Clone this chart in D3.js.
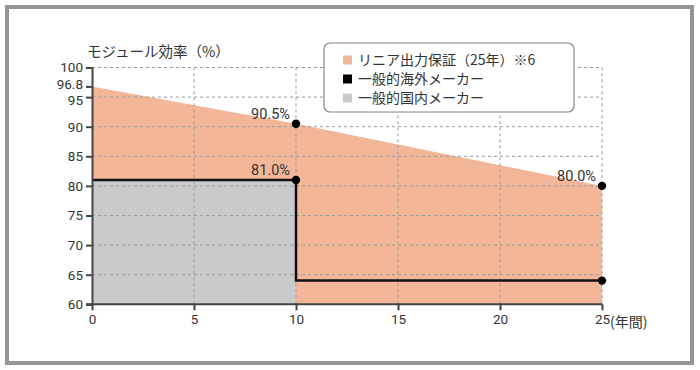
<!DOCTYPE html>
<html><head><meta charset="utf-8">
<script src="https://cdn.jsdelivr.net/npm/d3@7"></script>
<style>
body{margin:0;background:#fff;}
text{font-family:"Noto Sans CJK JP","Noto Sans",sans-serif;fill:#333;}
</style></head>
<body><svg id="c" width="700" height="370"></svg>
<script>
const years = [0, 10, 25];
const linearWarranty = [96.8, 90.5, 80.0];
const overseasYears = [0, 10, 10, 25];
const overseasValues = [81.0, 81.0, 64.0, 64.0];
const domesticYears = [0, 10];
const domesticValues = [81.0, 81.0];
const xTicks = [0, 5, 10, 15, 20, 25];
const yTicks = [60, 65, 70, 75, 80, 85, 90, 95, 96.8, 100];
const yGrid = [65, 70, 75, 80, 85, 90, 95, 100];
const pointLabels = [{x:10,y:90.5,t:"90.5%"},{x:10,y:81.0,t:"81.0%"},{x:25,y:80.0,t:"80.0%"}];
const extraPoints = [{x:25,y:64.0}];
const legendItems = [
  {label:"リニア出力保証（25年）※6", color:"#f4b699"},
  {label:"一般的海外メーカー", color:"#000000"},
  {label:"一般的国内メーカー", color:"#c9cacb"}
];

const svg = d3.select("#c");
svg.append("rect").attr("x",7).attr("y",7).attr("width",685).attr("height",356)
  .attr("fill","#fff").attr("stroke","#959595").attr("stroke-width",4);

const x = d3.scaleLinear().domain([0,25]).range([92,602]);
const y = d3.scaleLinear().domain([60,100]).range([304.3,67.5]);

// orange area
const area = d3.area().x((d,i)=>x(years[i])).y0(y(60)).y1(d=>y(d));
svg.append("path").datum(linearWarranty).attr("d",area).attr("fill","#f4b699");
// gray area
const area2 = d3.area().x((d,i)=>x(domesticYears[i])).y0(y(60)).y1(d=>y(d));
svg.append("path").datum(domesticValues).attr("d",area2).attr("fill","#c9cacb");

// grid
const g = svg.append("g");
g.selectAll(".hg").data(yGrid).enter().append("line")
  .attr("x1",x(0)).attr("x2",x(25)).attr("y1",d=>y(d)).attr("y2",d=>y(d))
  .attr("stroke","#999").attr("stroke-width",1).attr("stroke-dasharray","3,3");
g.selectAll(".vg").data(xTicks.slice(1)).enter().append("line")
  .attr("x1",d=>x(d)).attr("x2",d=>x(d)).attr("y1",y(60)).attr("y2",y(100))
  .attr("stroke","#999").attr("stroke-width",1).attr("stroke-dasharray","3,3");

// overseas step line
const line = d3.line().x((d,i)=>x(overseasYears[i])).y(d=>y(d));
svg.append("path").datum(overseasValues).attr("d",line).attr("fill","none")
  .attr("stroke","#111").attr("stroke-width",2.5);

// axes
const yAxis = d3.axisLeft(y).tickValues(yTicks).tickSize(6).tickPadding(3)
  .tickFormat(d=>d===96.8?"96.8":d3.format("d")(d));
const ya = svg.append("g").attr("transform",`translate(${x(0)},0)`).call(yAxis);
ya.select(".domain").attr("stroke","#444").attr("stroke-width",2);
ya.selectAll(".tick line").attr("stroke","#444").attr("stroke-width",2);
ya.selectAll(".tick text").attr("font-size",13.5).attr("fill","#333")
  .style("font-family","Roboto,sans-serif");
ya.selectAll(".tick text").filter(d=>d===96.8).attr("y",-2.7);
ya.selectAll(".tick text").filter(d=>d===95).attr("y",3.5);

const xAxis = d3.axisBottom(x).tickValues(xTicks).tickSize(6).tickPadding(4)
  .tickFormat(d3.format("d"));
const xa = svg.append("g").attr("transform",`translate(0,${y(60)})`).call(xAxis);
xa.select(".domain").attr("stroke","#444").attr("stroke-width",2).attr("d",`M86,0H${x(25)}`);
xa.selectAll(".tick line").attr("stroke","#444").attr("stroke-width",2);
xa.selectAll(".tick text").attr("font-size",13.5).attr("fill","#333")
  .style("font-family","Roboto,sans-serif");

svg.append("text").attr("x",x(25)+8).attr("y",y(60)+23).attr("font-size",14).text("(年間)");
svg.append("text").attr("x",87).attr("y",57).attr("font-size",14.5).text("モジュール効率（%）");

// points
const pts = pointLabels.map(d=>({x:d.x,y:d.y})).concat(extraPoints);
svg.selectAll(".pt").data(pts).enter().append("circle")
  .attr("cx",d=>x(d.x)).attr("cy",d=>y(d.y)).attr("r",4.2).attr("fill","#000");
svg.selectAll(".pl").data(pointLabels).enter().append("text")
  .attr("x",d=>x(d.x)-6).attr("y",d=>y(d.y)-5).attr("text-anchor","end")
  .attr("font-size",14.5).style("font-family","Roboto,sans-serif").text(d=>d.t);

// legend
const lg = svg.append("g");
lg.append("rect").attr("x",324).attr("y",43).attr("width",250).attr("height",69).attr("rx",6)
  .attr("fill","#fff").attr("stroke","#888").attr("stroke-width",1.2);
legendItems.forEach((d,i)=>{
  const cy = 60 + i*19;
  lg.append("rect").attr("x",343).attr("y",cy-4.5).attr("width",9).attr("height",9).attr("fill",d.color);
  lg.append("text").attr("x",358).attr("y",cy+5).attr("font-size",14).text(d.label);
});
</script></body></html>
